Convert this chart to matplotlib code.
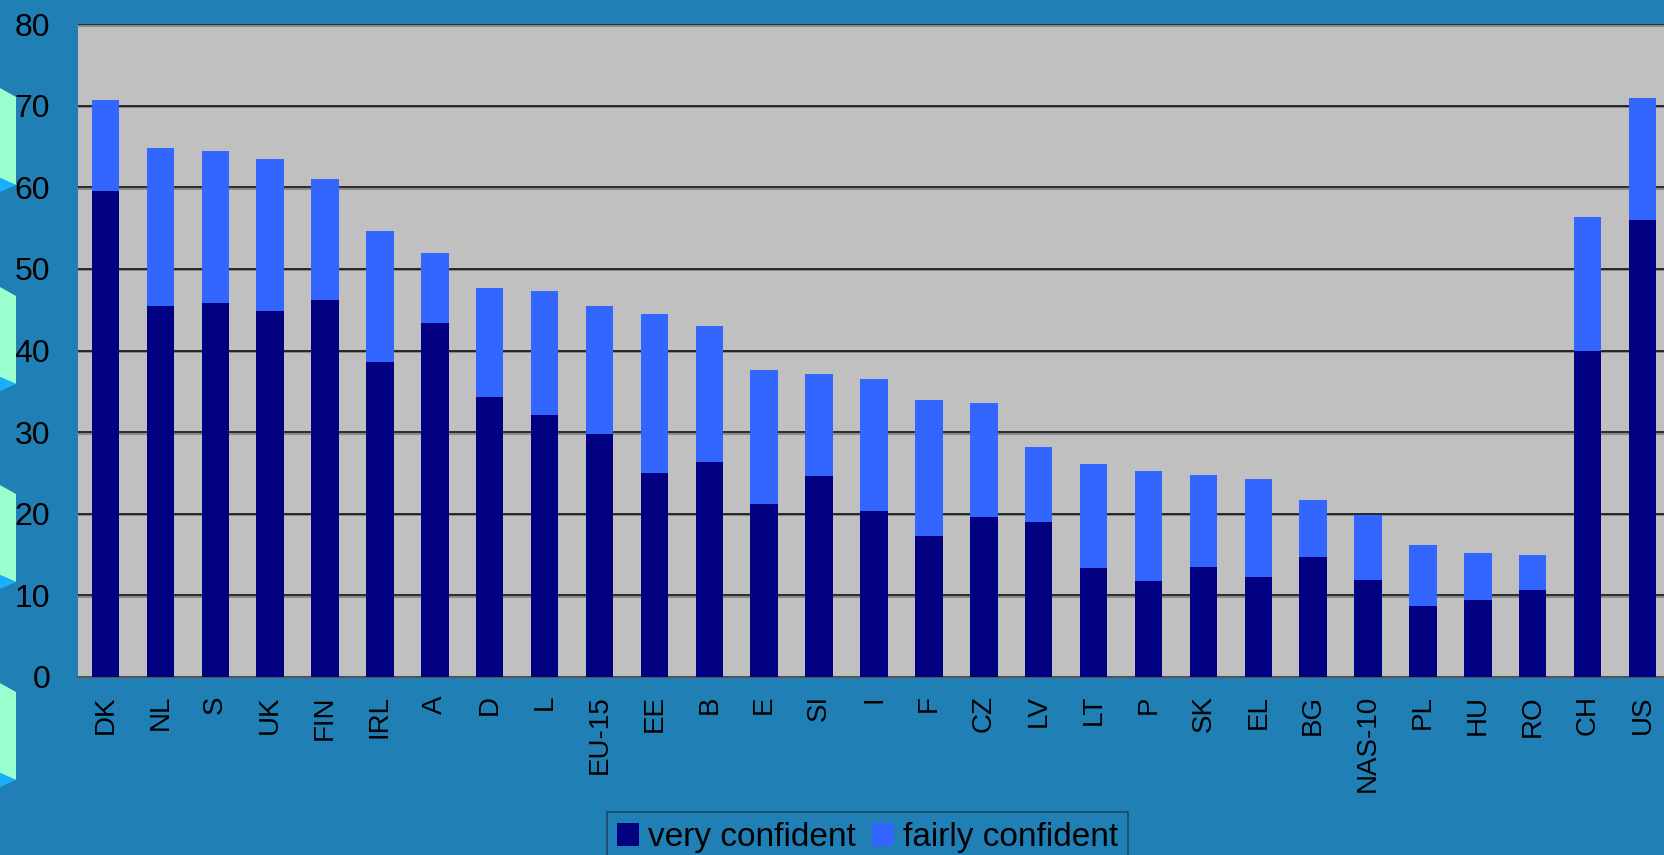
import numpy as np
import matplotlib.pyplot as plt
import matplotlib.transforms as mtransforms
from matplotlib.patches import Polygon

plt.rcParams['font.family'] = ['Liberation Sans', 'DejaVu Sans']

countries = ["DK", "NL", "S", "UK", "FIN", "IRL", "A", "D", "L", "EU-15",
             "EE", "B", "E", "SI", "I", "F", "CZ", "LV", "LT", "P",
             "SK", "EL", "BG", "NAS-10", "PL", "HU", "RO", "CH", "US"]
very_confident = [59.6, 45.5, 45.8, 44.9, 46.2, 38.6, 43.4, 34.3, 32.1, 29.8,
                  25.0, 26.3, 21.2, 24.6, 20.3, 17.3, 19.6, 19.0, 13.3, 11.8,
                  13.5, 12.2, 14.7, 11.9, 8.7, 9.4, 10.7, 39.9, 56.0]
total_confident = [70.7, 64.8, 64.4, 63.5, 61.0, 54.6, 52.0, 47.7, 47.3, 45.5,
                   44.5, 43.0, 37.6, 37.1, 36.5, 33.9, 33.6, 28.2, 26.1, 25.2,
                   24.8, 24.3, 21.7, 19.9, 16.2, 15.2, 15.0, 56.4, 70.9]
fairly_confident = [t - v for t, v in zip(total_confident, very_confident)]
y_ticks = [0, 10, 20, 30, 40, 50, 60, 70, 80]

bg = "#2080B6"
fig = plt.figure(figsize=(16.64, 8.55), dpi=100, facecolor=bg)

# slide decorations on the left edge
for top in [88, 287, 485, 683]:
    pts = [(0, top), (16, top + 9), (16, top + 97), (0, top + 90)]
    fig.patches.append(Polygon([(x / 1664, 1 - y / 855) for x, y in pts],
                               closed=True, facecolor="#99FFCC", edgecolor="none",
                               transform=fig.transFigure, zorder=0))
    tri = [(0, top + 90), (16, top + 97), (0, top + 104)]
    fig.patches.append(Polygon([(x / 1664, 1 - y / 855) for x, y in tri],
                               closed=True, facecolor="#1AAEFF", edgecolor="none",
                               transform=fig.transFigure, zorder=0))

ax = fig.add_axes([78 / 1664, 1 - 677 / 855, (1670 - 78) / 1664, (677 - 24) / 855])
ax.set_facecolor("#C0C0C0")

x = np.arange(len(countries))
ax.bar(x, very_confident, width=0.5, color="#000080", label="very confident", zorder=3)
ax.bar(x, fairly_confident, width=0.5, bottom=very_confident, color="#3366FF",
       label="fairly confident", zorder=3)

ax.set_xlim(-0.5, len(countries) - 0.5)
ax.set_ylim(0, 80)
ax.set_yticks(y_ticks)
ax.set_xticks(x)
ax.set_xticklabels(countries, rotation=90)
ax.tick_params(axis="y", length=0, pad=20, labelsize=23)
ax.tick_params(axis="x", length=0, pad=13, labelsize=20)

# gridlines with a slight grey shadow underneath
shadow = ax.transData + mtransforms.ScaledTranslation(0, -1.5 / 100, fig.dpi_scale_trans)
xl = ax.get_xlim()
for yv in y_ticks[1:]:
    ax.plot(xl, [yv, yv], color="#808080", lw=1.2, zorder=1, transform=shadow, clip_on=False)
    ax.axhline(yv, color="#111111", lw=1.2, zorder=2)
for s in ["left", "right", "top"]:
    ax.spines[s].set_visible(False)
ax.spines["bottom"].set_color("#555555")
ax.spines["bottom"].set_linewidth(1.5)

leg = fig.legend(loc="upper center", bbox_to_anchor=(0.5215, 0.05), ncol=2,
                 fontsize=24, frameon=True, fancybox=False, facecolor=bg,
                 edgecolor="#1a3a50", handlelength=0.65, handleheight=0.65,
                 handletextpad=0.27, columnspacing=0.5, borderpad=0.3,
                 borderaxespad=0)
leg.get_frame().set_linewidth(1.2)

fig.savefig("out.png", dpi=100, facecolor=bg)
